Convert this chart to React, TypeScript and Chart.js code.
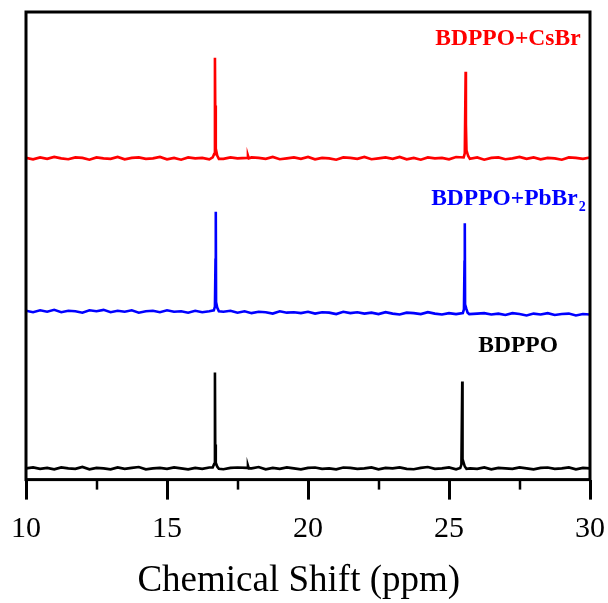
import React, { useEffect, useRef } from 'react';
import { Chart, registerables } from 'chart.js';

Chart.register(...registerables);

// ---- data ----
const ppmGrid = [
  10, 10.25, 10.5, 10.75, 11, 11.25, 11.5, 11.75, 12, 12.25,
  12.5, 12.75, 13, 13.25, 13.5, 13.75, 14, 14.25, 14.5, 14.75,
  15, 15.25, 15.5, 15.75, 16, 16.25, 16.5, 16.75, 17, 17.25,
  17.5, 17.75, 18, 18.25, 18.5, 18.75, 19, 19.25, 19.5, 19.75,
  20, 20.25, 20.5, 20.75, 21, 21.25, 21.5, 21.75, 22, 22.25,
  22.5, 22.75, 23, 23.25, 23.5, 23.75, 24, 24.25, 24.5, 24.75,
  25, 25.25, 25.5, 25.75, 26, 26.25, 26.5, 26.75, 27, 27.25,
  27.5, 27.75, 28, 28.25, 28.5, 28.75, 29, 29.25, 29.5, 29.75,
  30,
];

const seriesNames = ['BDPPO+CsBr', 'BDPPO+PbBr2', 'BDPPO'];
const baseLevels = [68.7, 35.7, 2.4];

const redNoise = [
  0.1, -0.2, 0.2, -0.1, 0.3, 0.0, -0.2, 0.2, 0.1, -0.3,
  0.2, 0.0, -0.1, 0.3, -0.2, 0.1, 0.2, -0.1, 0.0, 0.3,
  -0.2, 0.1, -0.3, 0.2, 0.0, 0.1, -0.2, 0.3, -0.1, 0.2,
  0.0, -0.3, 0.2, 0.1, -0.1, 0.3, -0.2, 0.0, 0.2, -0.1,
  0.3, -0.2, 0.1, 0.0, -0.3, 0.2, 0.1, -0.1, 0.3, -0.2,
  0.0, 0.2, -0.1, 0.3, -0.2, 0.1, -0.3, 0.2, 0.0, 0.1,
  -0.2, 0.3, 0.0, -0.1, 0.2, -0.3, 0.1, 0.2, -0.2, 0.0,
  0.3, -0.1, 0.2, -0.2, 0.1, 0.0, -0.3, 0.2, 0.1, -0.1,
  0.2,
];
const blueNoise = [
  0.4, 0.1, 0.5, 0.2, 0.6, 0.1, 0.4, 0.3, 0.0, 0.5,
  0.3, 0.6, 0.1, 0.4, 0.2, 0.5, 0.0, 0.3, 0.4, 0.1,
  0.5, 0.2, 0.3, 0.0, 0.4, 0.1, 0.3, -0.1, 0.2, 0.4,
  0.0, 0.3, -0.1, 0.2, 0.1, -0.2, 0.3, 0.0, 0.1, -0.1,
  0.2, -0.2, 0.1, 0.0, -0.3, 0.2, -0.1, 0.1, -0.2, 0.0,
  -0.3, 0.1, -0.2, -0.4, 0.0, -0.1, -0.3, 0.1, -0.2, -0.4,
  -0.1, -0.3, 0.0, -0.5, -0.2, -0.1, -0.4, -0.2, -0.5, -0.1,
  -0.3, -0.6, -0.2, -0.4, -0.1, -0.5, -0.3, -0.2, -0.6, -0.3,
  -0.4,
];
const blackNoise = [
  0.0, 0.2, -0.1, 0.1, -0.2, 0.2, 0.0, -0.1, 0.3, -0.2,
  0.1, 0.0, -0.2, 0.2, -0.1, 0.1, 0.3, -0.2, 0.0, 0.1,
  -0.1, 0.2, 0.0, -0.2, 0.1, -0.1, 0.2, 0.0, -0.2, 0.1,
  0.2, -0.1, 0.0, 0.3, -0.2, 0.1, -0.1, 0.2, 0.0, -0.2,
  0.1, 0.2, -0.1, 0.0, -0.2, 0.2, 0.1, -0.1, 0.0, 0.2,
  -0.2, 0.1, 0.0, 0.2, -0.1, -0.2, 0.1, 0.3, -0.1, 0.0,
  0.2, -0.2, 0.1, 0.0, -0.1, 0.2, -0.2, 0.1, 0.0, -0.1,
  0.2, 0.0, -0.2, 0.1, 0.2, -0.1, 0.0, 0.2, -0.2, 0.1,
  0.0,
];

// peak regions: [ppm, intensity]
const redPeaks = [
  [16.62, 68.9], [16.67, 69.6], [16.70, 90.2], [16.71, 80.0], [16.73, 70.8], [16.78, 69.3], [16.84, 68.6],
  [17.84, 68.8], [17.87, 69.3], [17.90, 68.7],
  [25.52, 68.9], [25.56, 69.8], [25.59, 87.2], [25.60, 76.0], [25.62, 70.4], [25.68, 69.2], [25.74, 68.6],
];
const bluePeaks = [
  [16.66, 36.2], [16.70, 37.0], [16.72, 47.0], [16.73, 57.3], [16.74, 38.0], [16.78, 36.8], [16.84, 36.0],
  [25.49, 35.6], [25.53, 36.4], [25.55, 46.6], [25.56, 54.8], [25.57, 37.5], [25.61, 36.6], [25.66, 35.7], [25.72, 35.4],
];
const blackPeaks = [
  [16.62, 2.6], [16.67, 3.3], [16.70, 22.9], [16.71, 7.5], [16.73, 3.6], [16.78, 2.8], [16.84, 2.3],
  [17.84, 2.5], [17.87, 3.0], [17.90, 2.4],
  [25.40, 2.5], [25.44, 3.2], [25.47, 21.0], [25.48, 3.6], [25.51, 3.8], [25.56, 2.8], [25.62, 2.3],
];

const majorTicks = [10, 15, 20, 25, 30];
const minorTicks = [12.5, 17.5, 22.5, 27.5];

// ---- styles / label placement ----
const colors = ['#ff0000', '#0000ff', '#000000'];
const labelPos = [
  { ppm: 27.09, val: 94.2 },
  { ppm: 27.09, val: 60.0 },
  { ppm: 27.45, val: 28.6 },
];
const SERIF = '"Liberation Serif", "Times New Roman", serif';

function buildSeries(base: number, noise: number[], peaks: number[][]) {
  const pts: { x: number; y: number }[] = [];
  const n = Math.min(ppmGrid.length, noise.length);
  for (let i = 0; i < n; i++) {
    const x = ppmGrid[i];
    if (peaks.some((p) => Math.abs(p[0] - x) < 0.1)) continue;
    pts.push({ x, y: base + noise[i] });
  }
  for (const p of peaks) pts.push({ x: p[0], y: p[1] });
  pts.sort((a, b) => a.x - b.x);
  return pts;
}

const framePlugin = {
  id: 'frameAndLabels',
  afterDatasetsDraw(chart: any) {
    const { ctx, chartArea, scales } = chart;
    const xs = scales.x;
    const ys = scales.y;
    ctx.save();
    ctx.strokeStyle = '#000';
    ctx.lineWidth = 3;
    ctx.strokeRect(chartArea.left, chartArea.top, chartArea.right - chartArea.left, chartArea.bottom - chartArea.top);
    ctx.lineWidth = 2.5;
    for (const t of minorTicks) {
      const px = Math.round(xs.getPixelForValue(t));
      ctx.beginPath();
      ctx.moveTo(px, chartArea.bottom);
      ctx.lineTo(px, chartArea.bottom + 10);
      ctx.stroke();
    }
    ctx.textBaseline = 'middle';
    const bigFont = 'bold 23.5px ' + SERIF;
    const subFont = 'bold 14px ' + SERIF;
    seriesNames.forEach((name, i) => {
      const cx = xs.getPixelForValue(labelPos[i].ppm);
      const cy = ys.getPixelForValue(labelPos[i].val);
      ctx.fillStyle = colors[i];
      if (name.endsWith('2')) {
        const main = name.slice(0, -1);
        ctx.font = bigFont;
        const w1 = ctx.measureText(main).width;
        ctx.font = subFont;
        const w2 = ctx.measureText('2').width;
        const start = cx - (w1 + w2) / 2;
        ctx.textAlign = 'left';
        ctx.font = bigFont;
        ctx.fillText(main, start, cy);
        ctx.font = subFont;
        ctx.fillText('2', start + w1 + 1, cy + 8);
      } else {
        ctx.font = bigFont;
        ctx.textAlign = 'center';
        ctx.fillText(name, cx, cy);
      }
    });
    ctx.restore();
  },
};

export default function App() {
  const ref = useRef<HTMLCanvasElement | null>(null);
  useEffect(() => {
    if (!ref.current) return;
    const datasets = [
      buildSeries(baseLevels[0], redNoise, redPeaks),
      buildSeries(baseLevels[1], blueNoise, bluePeaks),
      buildSeries(baseLevels[2], blackNoise, blackPeaks),
    ].map((d, i) => ({
      label: seriesNames[i],
      data: d,
      borderColor: colors[i],
      borderWidth: 2.6,
      pointRadius: 0,
      tension: 0,
      fill: false,
    }));
    const chart = new Chart(ref.current, {
      type: 'line',
      data: { datasets },
      options: {
        animation: false,
        responsive: false,
        maintainAspectRatio: false,
        layout: { padding: { left: 26, right: 18, top: 12, bottom: 1 } },
        plugins: { legend: { display: false }, tooltip: { enabled: false } },
        scales: {
          x: {
            type: 'linear',
            min: 10,
            max: 30,
            afterBuildTicks: (axis: any) => {
              axis.ticks = majorTicks.map((v) => ({ value: v }));
            },
            afterFit: (axis: any) => {
              axis.paddingLeft = 0;
              axis.paddingRight = 0;
            },
            grid: {
              display: true,
              drawOnChartArea: false,
              drawTicks: true,
              tickLength: 20,
              tickWidth: 3,
              tickColor: '#000',
            },
            border: { display: false },
            ticks: {
              color: '#000',
              padding: 12,
              maxRotation: 0,
              autoSkip: false,
              font: { family: SERIF, size: 30 },
            },
            title: {
              display: true,
              text: 'Chemical Shift (ppm)  ',
              color: '#000',
              padding: { top: 0, bottom: 0 },
              font: { family: SERIF, size: 37, lineHeight: 1.146 },
            },
          },
          y: {
            type: 'linear',
            display: false,
            min: 0,
            max: 100,
          },
        },
      },
      plugins: [framePlugin],
    });
    return () => chart.destroy();
  }, []);
  return (
    <div style={{ position: 'absolute', left: 0, top: 0, width: 608, height: 603 }}>
      <canvas ref={ref} width={608} height={603} style={{ display: 'block' }} />
    </div>
  );
}
